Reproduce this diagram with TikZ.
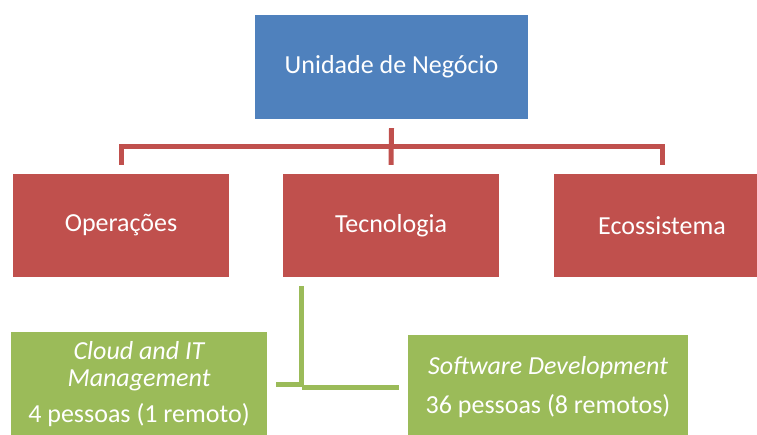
\documentclass[tikz,border=0pt]{standalone}
\usepackage{fontspec}
\setmainfont{Carlito}
\definecolor{oblue}{HTML}{4F81BD}
\definecolor{ored}{HTML}{C0504D}
\definecolor{ogreen}{HTML}{9BBB59}
\begin{document}
\begin{tikzpicture}[x=1pt,y=-1pt,
  box/.style={rectangle, inner sep=0pt, text=white, align=center,
    font=\fontsize{26}{27}\selectfont},
  bluebox/.style={box, fill=oblue, minimum width=273pt, minimum height=104pt},
  redbox/.style={box, fill=ored, minimum width=216pt, minimum height=103pt},
  greenbox/.style={box, fill=ogreen, minimum height=104pt},
  redline/.style={draw=ored, line width=5pt, line join=miter},
  greenline/.style={draw=ogreen, line width=5pt}]
\useasboundingbox (0,0) rectangle (757,435);
\clip (0,0) rectangle (757,435);

\node[bluebox] (u) at (391.5,67) {Unidade de Negócio};
\node[redbox] (op) at (121,225.5) {Operações};
\node[redbox] (tec) at (391,225.5) {Tecnologia};
\node[redbox] (eco) at (662,225.5) {Ecossistema};
\node[greenbox, minimum width=256pt] (cloud) at (139,384)
  {\itshape Cloud and IT\\ \itshape Management\\[9pt] 4 pessoas (1 remoto)};
\node[greenbox, minimum width=280pt] (soft) at (548,387)
  {\itshape Software Development\\[12pt] 36 pessoas (8 remotos)};

% red connectors
\coordinate (bar) at (0,147);
\draw[redline] ([yshift=-9pt]u.south) -- ([yshift=9pt]tec.north);
\draw[redline] ([yshift=9pt]op.north) |- (bar -| eco.north) -- ([yshift=9pt]eco.north);

% green connectors
\coordinate (gtop) at ([xshift=-89.5pt,yshift=-9pt]tec.south);
\coordinate (gbot) at ([xshift=-89.5pt]tec.south |- soft.west);
\draw[greenline] (gtop) -- (gbot);
\draw[greenline] ([xshift=9pt]cloud.east) -- (cloud.east -| gtop);
\draw[greenline] (gbot) -- ([xshift=-9pt]soft.west);
\end{tikzpicture}
\end{document}
